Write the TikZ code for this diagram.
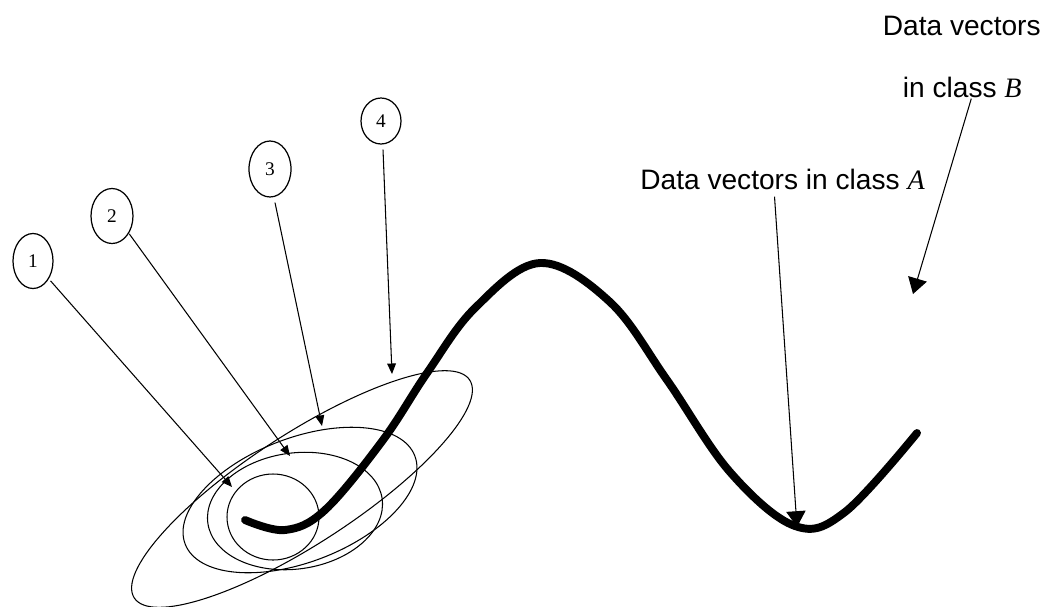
\documentclass[tikz,border=0pt]{standalone}
\usepackage{fontspec}
\setmainfont{Liberation Serif}
\newfontfamily\labfont{Liberation Sans}
\usetikzlibrary{arrows.meta,shapes.geometric}
\begin{document}
\begin{tikzpicture}[x=0.02cm,y=-0.02cm,
  oval/.style={draw,ellipse,line width=0.7pt,inner sep=0pt,font=\fontsize{11}{13}\selectfont},
  thin/.style={line width=0.6pt},
  pointer/.style={thin,-{Triangle[length=6pt,width=5pt]}},
  bigpointer/.style={thin,-{Triangle[length=9pt,width=11pt]}},
  lab/.style={inner sep=0pt,font=\labfont\fontsize{16}{18}\selectfont},
  ring/.style={line width=0.6pt},
  trace/.style={line width=4.5pt,line cap=round,line join=round}]
\useasboundingbox (0,0) rectangle (1047,606);
% numbered ovals
\node[oval,minimum width=0.8cm,minimum height=1.1cm] (n1) at (33,261) {1};
\node[oval,minimum width=0.84cm,minimum height=1.1cm] (n2) at (112,216) {2};
\node[oval,minimum width=0.84cm,minimum height=1.12cm] (n3) at (270,169) {3};
\node[oval,minimum width=0.8cm,minimum height=0.92cm] (n4) at (381,121) {4};
% arrow targets
\coordinate (t1) at (232,487);
\coordinate (t2) at (290,456);
\coordinate (t3) at (322,426);
\coordinate (t4) at (392,374);
\draw[pointer] (n1.south east) ++(3,0) -- (t1);
\draw[pointer] (n2.south east) ++(2,-2) -- (t2);
\draw[pointer] (n3.south) ++(5,5) -- (t3);
\draw[pointer] (n4.south) ++(2,5) -- (t4);
% concentric ellipses
\draw[ring] (273,517) ellipse [x radius=46, y radius=43];
\draw[ring,rotate around={8:(295,511)}] (295,511) ellipse [x radius=88, y radius=58];
\draw[ring,rotate around={21:(300,500)}] (300,500) ellipse [x radius=123, y radius=62];
\draw[ring,rotate around={33:(302,489)}] (302,489) ellipse [x radius=200, y radius=55];
% data trace
\draw[trace] plot[smooth,tension=0.6] coordinates {
 (245,520) (285,530) (325,510) (383,440) (427,373) (475,308) (540,263)
 (610,302) (667,380) (730,472) (795,526) (845,512) (917,433)};
% labels
\node[lab,anchor=base east] (tb1) at (1041,35) {Data vectors};
\node[lab,anchor=base east] (tb2) at (1022,97) {in class {\rmfamily\itshape B}};
\node[lab,anchor=base west] (ta) at (640,189) {Data vectors in class {\rmfamily\itshape A}};
\coordinate (tA) at (797,527);
\coordinate (tB) at (913,294);
\draw[bigpointer] (ta.south) ++(-8,7) -- (tA);
\draw[bigpointer] (tb2.south) ++(9,1) -- (tB);
\end{tikzpicture}
\end{document}
